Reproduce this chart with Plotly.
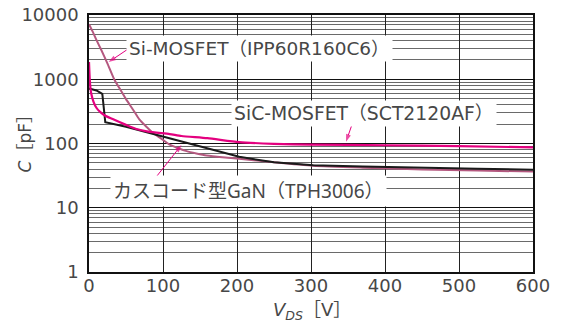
import numpy as np
import plotly.graph_objects as go

# ---- data ----
v_si = [0, 5, 10, 16, 25, 34, 42, 50, 60, 68, 78, 86, 98, 109, 120, 132, 145, 159, 180, 203, 250, 303, 370, 450, 525, 600]
c_si = [7200, 5500, 4100, 2950, 1750, 1000, 700, 490, 330, 237, 180, 147, 118, 96, 85, 76, 70, 65, 61, 58, 51, 45, 42, 39.5, 38, 36.5]

v_sic = [0, 1, 2, 3, 6, 10, 15, 22, 32, 50, 64, 80, 109, 125, 160, 203, 250, 300, 400, 500, 600]
c_sic = [1850, 1000, 720, 600, 450, 360, 310, 270, 240, 195, 168, 153, 140, 131, 121, 105, 99, 96, 94, 91, 87]

v_gan = [0, 10, 18, 22, 50, 80, 125, 159, 203, 250, 303, 370, 400, 450, 525, 600]
c_gan = [720, 670, 590, 215, 182, 147, 108, 85, 62, 51, 46, 44, 43.5, 42, 40.5, 39]

label_si = "Si-MOSFET（IPP60R160C6）"
label_sic = "SiC-MOSFET（SCT2120AF）"
label_gan = "カスコード型GaN（TPH3006）"
x_title = "<i>V<sub>DS</sub></i>［V］"
y_title = "<i>C</i>［pF］"

x_ticks = [0, 100, 200, 300, 400, 500, 600]
y_ticks = [1, 10, 100, 1000, 10000]
y_minor = [m * 10 ** e for e in range(0, 4) for m in range(2, 10)]

FONT_D = "DejaVu Sans, Noto Sans CJK JP, sans-serif"
FONT_N = "Noto Sans, Noto Sans CJK JP, sans-serif"
TXT = "#474747"
PINK = "#e4007f"
MAUVE = "#b4587f"

fig = go.Figure()
fig.add_trace(go.Scatter(x=v_si, y=c_si, mode="lines",
                         line=dict(color=MAUVE, width=2, shape="spline", smoothing=0.6)))
fig.add_trace(go.Scatter(x=v_gan, y=c_gan, mode="lines",
                         line=dict(color="#1a1a1a", width=2)))
fig.add_trace(go.Scatter(x=v_sic, y=c_sic, mode="lines",
                         line=dict(color=PINK, width=2.2, shape="spline", smoothing=0.6)))

# arrows (tail -> head) drawn as short lines with an arrow marker at the head
for (tx, ty), (hx, hy) in [((52.5, 2940), (26.5, 1850)),
                           ((355.6, 200), (347.3, 106)),
                           ((89.6, 29), (125, 95))]:
    fig.add_trace(go.Scatter(x=[tx, hx], y=[ty, hy], mode="lines+markers",
                             line=dict(color=PINK, width=1),
                             marker=dict(symbol="arrow", size=[0, 8], angleref="previous",
                                         color=PINK, line=dict(width=0))))

# labels
for txt, xv, yv, fam, sz in [(label_si, 231, 2980, FONT_D, 18.5),
                             (label_sic, 372, 288, FONT_D, 18.8),
                             (label_gan, 215, 18.2, FONT_N, 19)]:
    fig.add_annotation(x=xv, y=np.log10(yv), xref="x", yref="y", text=txt, showarrow=False,
                       bgcolor="white", borderpad=2,
                       font=dict(family=fam, size=sz, color=TXT))

# axis titles
fig.add_annotation(x=0.502, y=-0.153, xref="paper", yref="paper", text=x_title,
                   showarrow=False, xanchor="center", yanchor="middle",
                   font=dict(family=FONT_D, size=18, color=TXT))
fig.add_annotation(x=-0.144, y=0.516, xref="paper", yref="paper", text=y_title,
                   showarrow=False, xanchor="center", yanchor="middle", textangle=-90,
                   font=dict(family=FONT_D, size=17, color=TXT))

fig.update_layout(
    width=563, height=322,
    margin=dict(l=89, r=30, t=15, b=50, autoexpand=False),
    paper_bgcolor="white", plot_bgcolor="white",
    showlegend=False,
    font=dict(family=FONT_D, size=18, color=TXT),
)
fig.update_xaxes(
    range=[0, 600], tickvals=x_ticks, ticktext=[str(v) for v in x_ticks],
    showgrid=True, gridcolor="#222222", gridwidth=1,
    showline=True, linecolor="#111111", linewidth=1.5, mirror=True,
    ticks="", zeroline=False, ticklabelstandoff=-3, automargin=False,
    tickfont=dict(family=FONT_D, size=18, color=TXT),
)
fig.update_yaxes(
    type="log", range=[0, 4], tickvals=y_ticks, ticktext=[str(v) for v in y_ticks],
    showgrid=True, gridcolor="#111111", gridwidth=1.3,
    minor=dict(tickvals=y_minor, showgrid=True, gridcolor="#6a6a6a", gridwidth=1, ticks=""),
    showline=True, linecolor="#111111", linewidth=1.5, mirror=True,
    ticks="", zeroline=False, ticklabelstandoff=5, automargin=False,
    tickfont=dict(family=FONT_D, size=18, color=TXT),
)

fig.write_html("out.html")
